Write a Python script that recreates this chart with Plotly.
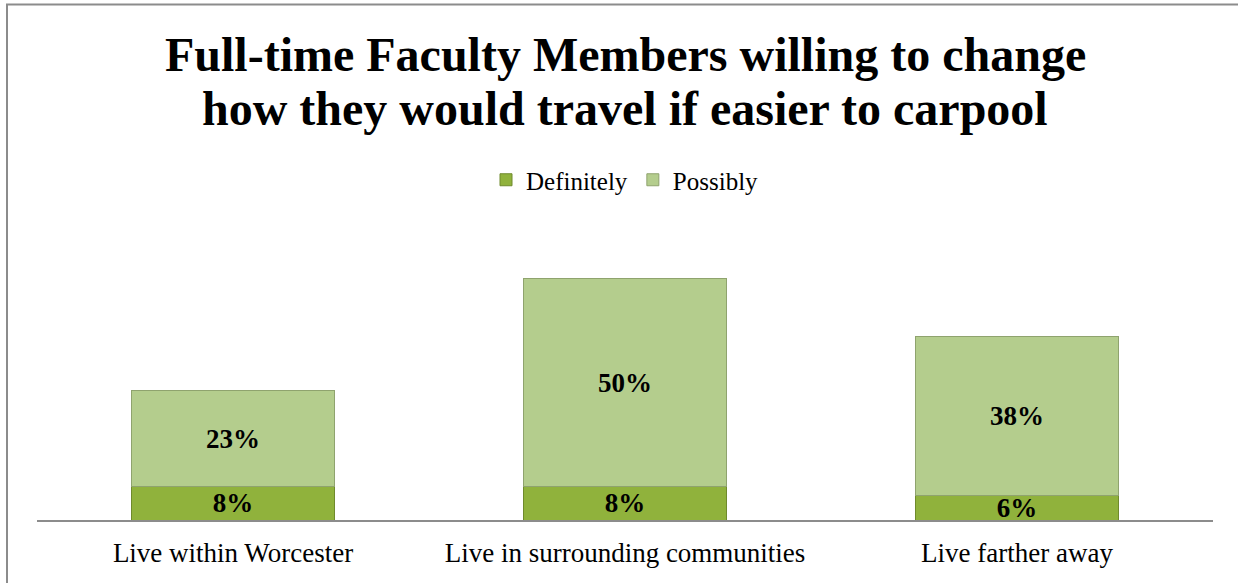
import plotly.graph_objects as go

# Survey results: share of full-time faculty willing to change travel mode
categories = ["Live within Worcester", "Live in surrounding communities", "Live farther away"]
definitely = [0.08, 0.08, 0.06]
possibly = [0.23, 0.50, 0.38]

title_lines = [
    "Full-time Faculty Members willing to change",
    "how they would travel if easier to carpool",
]

SERIF = "Liberation Serif, Times New Roman, serif"
W, H = 1238, 583
ML, MR, MT, MB = 37, 25, 270, 63
LABEL_SIZE = 27

fig = go.Figure()

fig.add_trace(go.Bar(
    name="Definitely",
    x=categories,
    y=definitely,
    text=[f"{v:.0%}" for v in definitely],
    textposition="inside",
    insidetextanchor="middle",
    textfont=dict(family=SERIF, size=LABEL_SIZE, color="black", weight="bold"),
    marker=dict(color="#90b23c", line=dict(color="#6f8a2c", width=1)),
    width=0.52,
    hoverinfo="skip",
))

fig.add_trace(go.Bar(
    name="Possibly",
    x=categories,
    y=possibly,
    text=[f"{v:.0%}" for v in possibly],
    textposition="inside",
    insidetextanchor="middle",
    textfont=dict(family=SERIF, size=LABEL_SIZE, color="black", weight="bold"),
    marker=dict(color="#b4cd8d", line=dict(color="#8fa36e", width=1)),
    width=0.52,
    hoverinfo="skip",
))

plot_h = H - MT - MB

def paper_y(py):
    # convert a pixel row into paper coordinates of the plot area
    return (H - MB - py) / plot_h

def paper_x(px):
    return (px - ML) / (W - ML - MR)

annotations = [
    dict(text=f"<b>{title_lines[0]}</b>", x=0.5, xref="paper", y=paper_y(55), yref="paper",
         xanchor="center", yanchor="middle", showarrow=False,
         font=dict(family=SERIF, size=48, color="black")),
    dict(text=f"<b>{title_lines[1]}</b>", x=0.5, xref="paper", y=paper_y(108), yref="paper",
         xanchor="center", yanchor="middle", showarrow=False,
         font=dict(family=SERIF, size=48, color="black")),
]

fig.update_layout(
    width=W,
    height=H,
    margin=dict(l=ML, r=MR, t=MT, b=MB, pad=0),
    barmode="stack",
    paper_bgcolor="white",
    plot_bgcolor="white",
    font=dict(family=SERIF, color="black"),
    uniformtext=dict(minsize=LABEL_SIZE, mode="show"),
    showlegend=True,
    legend=dict(
        orientation="h",
        x=0.5, xanchor="center",
        y=paper_y(180), yanchor="middle",
        traceorder="normal",
        font=dict(family=SERIF, size=25, color="black"),
        itemwidth=30,
        bgcolor="rgba(0,0,0,0)",
    ),
    xaxis=dict(
        showline=True, linecolor="#8c8c8c", linewidth=2,
        showgrid=False, ticks="", zeroline=False,
        ticklabelstandoff=8,
        tickfont=dict(family=SERIF, size=27, color="black"),
    ),
    yaxis=dict(
        range=[0, 0.6], visible=False, showgrid=False, zeroline=False,
    ),
    annotations=annotations,
    shapes=[
        # chart frame (runs off the right and bottom edges)
        dict(type="rect", xref="paper", yref="paper",
             x0=paper_x(7), x1=paper_x(W + 20), y0=paper_y(H + 20), y1=paper_y(4.5),
             line=dict(color="#8c8c8c", width=2), fillcolor="rgba(0,0,0,0)", layer="below"),
    ],
    bargap=0.48,
)

fig.write_html("out.html")
